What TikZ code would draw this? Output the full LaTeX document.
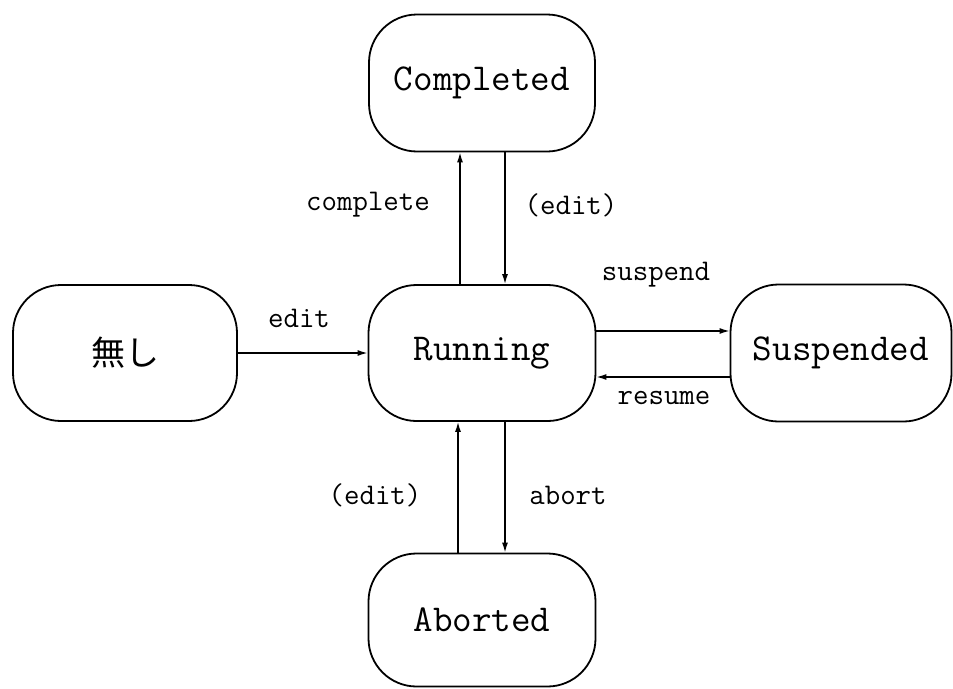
\documentclass[tikz,border=0pt]{standalone}
\usepackage{fontspec}
\newfontfamily\cjk{Noto Sans CJK JP}
\usetikzlibrary{arrows.meta}
\begin{document}
\begin{tikzpicture}[x=1pt,y=-1pt,
  state/.style={draw, line width=1.8pt, rounded corners=48pt, inner sep=0pt,
    font=\fontsize{38}{44}\selectfont\ttfamily},
  arr/.style={line width=1.4pt, -{Latex[length=10pt,width=6pt]}},
  lbl/.style={font=\fontsize{30}{36}\selectfont\ttfamily, inner sep=0pt}]
\useasboundingbox (0,0) rectangle (953,688);
% states
\node[state, minimum width=226pt, minimum height=137pt] (completed) at (482,83) {Completed};
\node[state, minimum width=224pt, minimum height=136pt] (none) at (125,353) {\cjk\fontsize{34}{40}\selectfont 無し};
\node[state, minimum width=227pt, minimum height=136pt] (running) at (482,353) {Running};
\node[state, minimum width=221pt, minimum height=137pt] (suspended) at (841,353) {Suspended};
\node[state, minimum width=227pt, minimum height=133pt] (aborted) at (482,620) {Aborted};
% transitions
\draw[arr] (none.east) -- (running.west);
\draw[arr] ([xshift=-22pt]running.north) -- ([xshift=-22pt]completed.south);
\draw[arr] ([xshift=23pt]completed.south) -- ([xshift=23pt]running.north);
\draw[arr] ([yshift=22pt]running.east) -- ([yshift=22pt]suspended.west);
\draw[arr] ([yshift=-24pt]suspended.west) -- ([yshift=-24pt]running.east);
\draw[arr] ([xshift=-24pt]aborted.north) -- ([xshift=-24pt]running.south);
\draw[arr] ([xshift=23pt]running.south) -- ([xshift=23pt]aborted.north);
% labels
\node[lbl] (lcomplete) at (368,205) {complete};
\node[lbl] (leditup) at (571,205) {(edit)};
\node[lbl] (ledit) at (299,318) {edit};
\node[lbl] (lsuspend) at (656,275) {suspend};
\node[lbl] (lresume) at (664,398) {resume};
\node[lbl] (leditdown) at (375,495) {(edit)};
\node[lbl] (labort) at (568,495) {abort};
\end{tikzpicture}
\end{document}
